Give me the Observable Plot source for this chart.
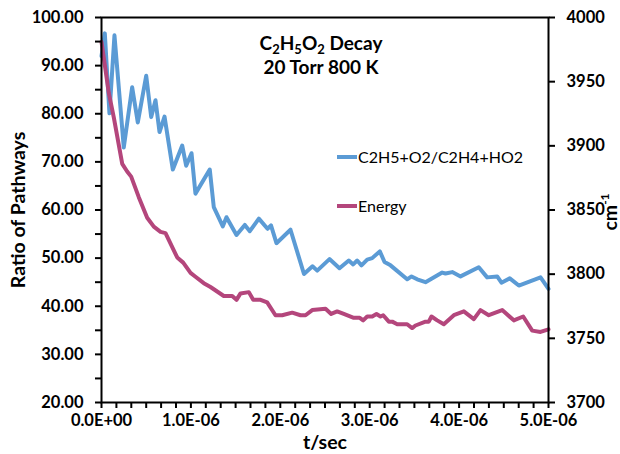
<!DOCTYPE html>
<html><head><meta charset="utf-8">
<script src="https://cdn.jsdelivr.net/npm/d3@7"></script>
<script src="https://cdn.jsdelivr.net/npm/@observablehq/plot@0.6"></script>
<style>
body{margin:0;background:#fff;}
#chart{width:620px;height:454px;}
</style></head><body><div id="chart"></div>
<script>
// time in microseconds (x 1e-6 s)
const ratioTime = [0,0.037,0.089,0.145,0.249,0.343,0.406,0.5,0.556,0.604,
  0.649,0.705,0.798,0.903,0.947,1.007,1.051,1.211,1.256,1.357,
  1.398,1.51,1.603,1.659,1.76,1.857,1.896,1.957,2.114,2.265,
  2.36,2.413,2.55,2.662,2.766,2.815,2.86,2.908,2.972,3.028,
  3.113,3.166,3.233,3.419,3.468,3.531,3.624,3.811,3.848,3.923,
  4.016,4.22,4.314,4.426,4.474,4.567,4.668,4.911,5.0];
const ratioValue = [92,96.7,80.1,96.3,73.0,85.5,78.2,87.9,79.3,82.8,
  76.2,79.4,68.4,73.4,69.2,71.8,63.4,68.4,60.6,56.6,
  58.5,54.8,56.9,55.6,58.2,56.1,56.8,53.1,55.9,46.7,
  48.3,47.4,49.8,47.9,49.5,48.7,49.5,48.5,49.7,50.0,
  51.4,49.2,48.5,45.6,46.2,45.6,45.0,47.0,46.8,47.1,
  46.2,48.1,46.0,46.2,44.9,45.8,44.3,46.0,43.6];
const energyTime = [0,0.082,0.138,0.232,0.287,0.332,0.417,0.511,0.585,0.66,
  0.716,0.847,0.914,0.996,1.051,1.144,1.219,1.368,1.462,1.51,
  1.555,1.648,1.697,1.779,1.853,1.946,2.021,2.133,2.226,2.282,
  2.357,2.506,2.569,2.636,2.71,2.822,2.889,2.927,2.972,3.028,
  3.076,3.121,3.151,3.214,3.252,3.308,3.419,3.475,3.512,3.624,
  3.661,3.691,3.755,3.829,3.941,4.053,4.165,4.239,4.332,4.444,
  4.482,4.612,4.717,4.818,4.911,5.0];
const energyValue = [3981,3941,3922,3886,3880,3876,3860,3844,3837,3833,
  3832,3813,3809,3801,3798,3793,3790,3783,3783,3780,
  3785,3786,3780,3780,3778,3768,3768,3770,3768,3768,
  3772,3773,3769,3771,3769,3766,3766,3764,3767,3767,
  3769,3767,3768,3763,3763,3761,3761,3758,3760,3763,
  3763,3767,3764,3761,3768,3771,3765,3772,3768,3771,
  3772,3764,3767,3756,3755,3757];
const xTickLabels = ["0.0E+00","1.0E-06","2.0E-06","3.0E-06","4.0E-06","5.0E-06"];
const leftTicks = [20,25,30,35,40,45,50,55,60,65,70,75,80,85,90,95,100];
const energyTicks = [3700,3750,3800,3850,3900,3950,4000];
const seriesNames = ["C2H5+O2/C2H4+HO2","Energy"];
const colors = ["#5B9BD5","#B4467C"];

// map energy (right axis 3700..4000) onto left scale (20..100)
const eMin = 3700, eMax = 4000, yMin = 20, yMax = 100;
const toLeft = e => yMin + (e - eMin) * (yMax - yMin) / (eMax - eMin);

const ratioRows = ratioTime.map((t,i)=>({t, v: ratioValue[i]}));
const energyRows = energyTime.map((t,i)=>({t, v: toLeft(energyValue[i])}));
const energyPos = energyTicks.map(toLeft);
const xTicks = d3.range(0, 31).map(i => i/6);

const font = "Lato, 'Open Sans', sans-serif";
const chart = Plot.plot({
  width: 620, height: 454,
  marginLeft: 101, marginRight: 72, marginTop: 17, marginBottom: 52,
  x: {domain: [0,5]},
  y: {domain: [yMin,yMax]},
  style: {fontFamily: font, fontSize: "16.5px", fontWeight: "bold", color: "#000", background: "#fff", overflow: "visible"},
  marks: [
    Plot.line(ratioRows, {x:"t", y:"v", stroke: colors[0], strokeWidth: 4, strokeLinejoin:"round", strokeLinecap:"round"}),
    Plot.line(energyRows, {x:"t", y:"v", stroke: colors[1], strokeWidth: 4, strokeLinejoin:"round", strokeLinecap:"round"}),
    Plot.axisY({ticks: leftTicks, tickSize: 6, tickPadding: 12, strokeWidth: 2, stroke:"#000",
      tickFormat: d => d % 10 === 0 ? d.toFixed(2) : "", label: null, fontSize: 16.5, fontWeight: "bold"}),
    Plot.axisY({anchor: "right", ticks: energyPos, tickSize: 6, tickPadding: 12, strokeWidth: 2, stroke:"#000",
      tickFormat: d => String(energyTicks[energyPos.indexOf(d)]), label: null, fontSize: 16.5, fontWeight: "bold"}),
    Plot.axisX({ticks: xTicks, tickSize: 6, tickPadding: 6, strokeWidth: 2, stroke:"#000",
      tickFormat: d => { const k = Math.round(d*6); return k % 6 === 0 ? xTickLabels[k/6] : ""; },
      label: null, fontSize: 16.5, fontWeight: "bold"}),
    Plot.frame({stroke: "#000", strokeWidth: 2})
  ]
});
document.getElementById("chart").appendChild(chart);

const svg = d3.select(chart);
// Title with subscripts
const title = svg.append("text").attr("x", 321).attr("y", 50).attr("text-anchor","middle")
  .attr("font-family", font).attr("font-size", 19).attr("font-weight","bold").attr("fill","#000");
const parts = [["C",0],["2",1],["H",0],["5",1],["O",0],["2",1],[" Decay",0]];
let prevSub = 0;
parts.forEach(([s,sub])=>{
  const ts = title.append("tspan").text(s);
  if (sub) ts.attr("font-size", 13);
  const dy = (sub - prevSub) * 4;
  if (dy) ts.attr("dy", dy);
  prevSub = sub;
});
svg.append("text").attr("x", 321).attr("y", 74).attr("text-anchor","middle")
  .attr("font-family", font).attr("font-size", 19).attr("font-weight","bold").attr("fill","#000")
  .text("20 Torr 800 K");

// Legend
const legendY = [157, 206];
seriesNames.forEach((name,i)=>{
  svg.append("line").attr("x1",337).attr("x2",357).attr("y1",legendY[i]).attr("y2",legendY[i])
    .attr("stroke",colors[i]).attr("stroke-width",4);
  svg.append("text").attr("x",358).attr("y",legendY[i]).attr("dy","0.35em").attr("text-anchor","start")
    .attr("font-family",font).attr("font-size",16).attr("font-weight","normal").attr("fill","#000").text(name);
});

// Axis titles
svg.append("text").attr("x",325).attr("y",449).attr("text-anchor","middle")
  .attr("font-family",font).attr("font-size",19.5).attr("font-weight","bold").attr("fill","#000").text("t/sec");
svg.append("text").attr("transform","translate(25,210) rotate(-90)").attr("text-anchor","middle")
  .attr("font-family",font).attr("font-size",19.5).attr("font-weight","bold").attr("fill","#000").text("Ratio of Pathways");
const cm = svg.append("text").attr("transform","translate(617,212) rotate(-90)").attr("text-anchor","middle")
  .attr("font-family",font).attr("font-size",19.5).attr("font-weight","bold").attr("fill","#000");
cm.append("tspan").text("cm");
cm.append("tspan").attr("font-size",12).attr("dy",-8).text("-1");
</script>
</body></html>
